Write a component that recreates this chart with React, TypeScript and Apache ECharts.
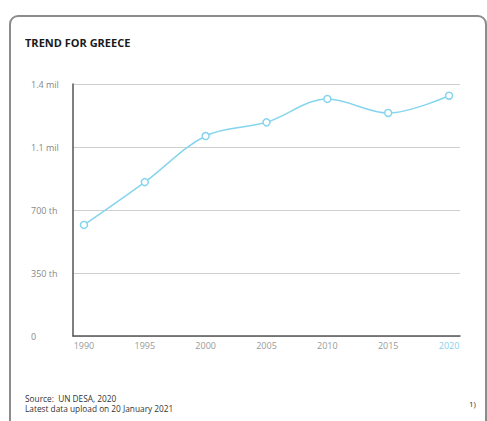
import React, { useEffect, useRef } from "react";
import * as echarts from "echarts";

const years = [1990, 1995, 2000, 2005, 2010, 2015, 2020];
const migrants = [617000, 855000, 1111000, 1187000, 1317000, 1239000, 1335000];
const yTickLabels = ["0", "350 th", "700 th", "1.1 mil", "1.4 mil"];
const title = "TREND FOR GREECE";
const sourceLine = "Source:  UN DESA, 2020";
const uploadLine = "Latest data upload on 20 January 2021";
const noteMark = "1)";

const FONT = "'Open Sans', 'Noto Sans', sans-serif";

export default function App() {
  const ref = useRef<HTMLDivElement>(null);
  useEffect(() => {
    const chart = echarts.init(ref.current!, null, { renderer: "svg" });
    chart.setOption({
      animation: false,
      backgroundColor: "#ffffff",
      textStyle: { fontFamily: FONT },
      graphic: [
        {
          type: "rect",
          z: -10,
          shape: { x: 10, y: 16, width: 476, height: 430, r: 8 },
          style: { fill: "#ffffff", stroke: "#8c8c8c", lineWidth: 2 },
        },
        {
          type: "text",
          x: 25,
          y: 37,
          style: { text: title, fontFamily: FONT, fontWeight: "bold", fontSize: 11, fill: "#1a1a1a" },
        },
        {
          type: "text",
          x: 25,
          y: 394,
          style: { text: sourceLine, fontFamily: FONT, fontSize: 8.3, fill: "#333" },
        },
        {
          type: "text",
          x: 25,
          y: 404,
          style: { text: uploadLine, fontFamily: FONT, fontSize: 8.3, fill: "#333" },
        },
        {
          type: "text",
          x: 469,
          y: 399,
          style: { text: noteMark, fontFamily: FONT, fontSize: 8, fill: "#333" },
        },
      ],
      grid: { left: 73, top: 84, width: 387, height: 252, containLabel: false },
      xAxis: {
        type: "value",
        min: 1989.1,
        max: 2020.9,
        axisLine: { show: true, lineStyle: { color: "#555", width: 1.5 } },
        axisTick: { show: false },
        splitLine: { show: false },
        axisLabel: {
          customValues: years,
          margin: 5,
          fontSize: 9,
          color: "#999",
          fontFamily: FONT,
          formatter: (v: number) => (v === years[years.length - 1] ? `{hl|${v}}` : `${v}`),
          rich: { hl: { color: "#7fd3ee", fontSize: 9, fontFamily: FONT } },
        },
      },
      yAxis: {
        type: "value",
        min: 0,
        max: 1400000,
        interval: 350000,
        axisLine: { show: true, lineStyle: { color: "#555", width: 1.5 } },
        axisTick: { show: false },
        splitLine: { lineStyle: { color: "#cfcfcf", width: 1 } },
        axisLabel: {
          align: "left",
          margin: 42,
          fontSize: 9,
          color: "#888",
          fontFamily: FONT,
          formatter: (_v: number, i: number) => yTickLabels[i],
        },
      },
      series: [
        {
          type: "line",
          smooth: 0.35,
          data: years.map((y, i) => [y, migrants[i]]),
          symbol: "circle",
          symbolSize: 7,
          lineStyle: { color: "#86d5ee", width: 1.5 },
          itemStyle: { color: "#ffffff", borderColor: "#86d5ee", borderWidth: 1.5 },
        },
      ],
    });
    return () => chart.dispose();
  }, []);
  return (
    <div
      ref={ref}
      style={{ position: "fixed", left: 0, top: 0, width: 487, height: 421 }}
    />
  );
}
